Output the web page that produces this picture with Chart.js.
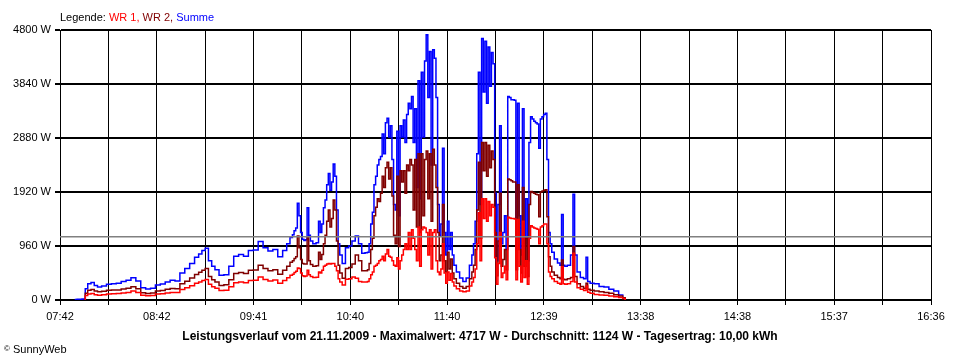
<!DOCTYPE html>
<html><head><meta charset="utf-8">
<script src="https://cdn.jsdelivr.net/npm/chart.js@4.4.1/dist/chart.umd.min.js"></script>
<style>
html,body{margin:0;padding:0;background:#fff;}
#wrap{position:relative;width:960px;height:360px;overflow:hidden;font-family:"Liberation Sans",Arial,sans-serif;color:#000;}
#c{position:absolute;left:0;top:0;}
#legend{position:absolute;left:60px;top:9px;font-size:11px;line-height:16px;white-space:nowrap;}
#title{position:absolute;left:0;width:960px;top:328px;text-align:center;font-weight:bold;font-size:12px;line-height:16px;white-space:nowrap;}
#copy{position:absolute;left:4px;top:341px;font-size:11px;line-height:16px;white-space:nowrap;}
</style></head><body>
<div id="wrap">
<canvas id="c" width="960" height="360"></canvas>
<div id="legend">Legende: <span style="color:#ff0000">WR 1,</span> <span style="color:#800000">WR 2,</span> <span style="color:#0000ff">Summe</span></div>
<div id="title">Leistungsverlauf vom 21.11.2009 - Maximalwert: 4717 W - Durchschnitt: 1124 W - Tagesertrag: 10,00 kWh</div>
<div id="copy"><span style="font-size:8px;vertical-align:2px">©</span> SunnyWeb</div>
</div>
<script>
const times = [
 "07:51","07:54","07:57","07:58","08:00","08:02","08:04","08:06","08:09","08:12",
 "08:15","08:18","08:21","08:24","08:27","08:30","08:33","08:36","08:39","08:42",
 "08:45","08:48","08:51","08:54","08:57","09:00","09:03","09:06","09:08","09:10",
 "09:12","09:14","09:16","09:18","09:21","09:24","09:27","09:30","09:33","09:36",
 "09:39","09:42","09:45","09:48","09:51","09:54","09:57","10:00","10:02","10:04",
 "10:05","10:06","10:07","10:08","10:09","10:10","10:11","10:12","10:13","10:14",
 "10:15","10:16","10:18","10:20","10:21","10:22","10:23","10:24","10:25","10:26",
 "10:27","10:28","10:29","10:30","10:31","10:32","10:33","10:34","10:36","10:38",
 "10:40","10:42","10:44","10:46","10:48","10:50","10:51","10:52","10:53","10:54",
 "10:55","10:56","10:57","10:58","10:59","11:00","11:01","11:02","11:03","11:04",
 "11:05","11:06","11:07","11:08","11:09","11:10","11:11","11:12","11:13","11:14",
 "11:15","11:16","11:17","11:18","11:19","11:20","11:21","11:22","11:23","11:24",
 "11:25","11:26","11:27","11:28","11:29","11:30","11:31","11:32","11:33","11:34",
 "11:35","11:36","11:37","11:38","11:39","11:40","11:41","11:42","11:43","11:44",
 "11:46","11:48","11:50","11:52","11:54","11:55","11:56","11:57","11:58","11:59",
 "12:00","12:01","12:02","12:03","12:04","12:05","12:06","12:07","12:08","12:09",
 "12:10","12:11","12:12","12:13","12:14","12:15","12:16","12:17","12:18","12:19",
 "12:20","12:21","12:22","12:23","12:24","12:25","12:26","12:27","12:28","12:29",
 "12:30","12:31","12:32","12:33","12:34","12:35","12:36","12:37","12:38","12:39",
 "12:40","12:41","12:42","12:43","12:44","12:46","12:48","12:49","12:50","12:51",
 "12:52","12:54","12:56","12:57","12:58","13:00","13:02","13:04","13:05","13:06",
 "13:08","13:11","13:14","13:17","13:20","13:23","13:26","13:28","13:29"
];
const summe = [
 10,15,20,200,290,310,260,230,250,280,
 290,300,330,350,395,340,220,195,210,265,
 285,320,350,340,480,560,650,760,820,880,
 920,700,600,540,440,450,600,780,810,780,
 880,890,1040,930,870,900,770,880,1000,1110,
 1160,1230,1280,1720,1500,1200,1080,1060,1070,1640,
 1150,1050,1000,1020,1400,1200,1350,1640,1780,2050,
 2250,1950,2100,2420,2200,1600,1000,800,650,930,
 960,1050,1140,1000,830,840,850,1000,1350,1560,
 2050,2200,2400,2500,2550,2950,2600,3150,3230,2900,
 3100,2500,1700,1600,3000,1500,3100,2900,3200,2800,
 3300,3500,3400,3620,2800,3400,2000,3900,1800,4050,
 2900,4250,4717,3600,4420,2400,4450,4300,3600,1700,
 1150,1350,2700,1200,800,1400,900,1200,800,620,
 500,390,330,390,620,800,1000,1400,2600,4050,
 1700,4650,3700,4600,3500,4500,3800,4400,4200,1900,
 700,1700,3100,1000,1200,1500,900,3620,3600,3560,
 3560,3550,900,3500,1500,800,3400,1000,1800,700,
 2800,3260,3220,3180,3150,3130,2700,3220,3260,3300,
 3320,2500,1200,1000,850,730,660,620,1520,620,
 600,620,800,1880,800,500,400,380,760,330,
 300,290,240,230,190,160,90,40,10
];
const wr2 = [
 null,null,0,120,175,185,160,145,155,175,
 180,180,195,210,235,200,130,115,125,160,
 170,190,205,200,290,335,390,455,495,530,
 560,420,360,320,260,270,360,470,490,470,
 530,535,620,560,520,540,460,530,600,670,
 700,740,770,1140,930,720,650,640,640,1110,
 700,630,600,610,850,720,810,1000,1150,1400,
 1600,1300,1450,1780,1600,1050,620,480,385,560,
 580,640,800,700,520,520,540,650,900,1100,
 1500,1650,1800,1750,1900,2200,2000,2350,2450,2150,
 2350,1850,1150,1000,2200,950,2300,2100,2300,1900,
 2400,2300,2500,2400,1600,2500,1300,2600,1200,2600,
 1500,2500,2650,1800,2600,1400,2680,2400,2000,1200,
 700,800,1700,700,500,850,550,730,480,380,
 300,240,210,240,380,500,620,900,1600,2450,
 1100,2800,2300,2800,2200,2750,2350,2650,2500,1200,
 430,1050,1900,600,720,900,540,2150,2140,2120,
 2100,2100,540,2050,900,480,2000,600,1100,420,
 1700,1930,1910,1900,1880,1870,1480,1920,1940,1950,
 1960,1480,770,600,500,440,400,380,710,370,
 360,380,400,950,420,290,240,210,300,190,
 175,160,148,135,119,95,71,40,0
];
const wr1 = [
 null,null,0,80,105,115,95,85,95,105,
 110,115,125,135,160,135,85,75,80,105,
 110,125,135,135,185,220,255,300,320,345,
 365,280,235,210,170,175,235,305,320,305,
 345,350,410,365,340,355,300,345,395,440,
 460,490,510,570,560,480,430,420,425,530,
 450,420,400,405,500,480,530,600,620,640,
 650,640,650,650,600,520,380,320,265,370,
 380,410,385,330,320,320,330,380,450,500,
 600,620,650,700,720,780,700,820,900,780,
 760,700,620,600,750,550,700,800,900,1000,
 900,1200,900,1250,1100,900,700,1300,600,1250,
 1300,1280,1200,800,1250,550,1200,1250,700,500,
 450,550,1000,480,300,500,350,470,320,250,
 200,160,145,160,250,320,400,550,1000,1550,
 700,1800,1450,1800,1400,1750,1500,1700,1650,750,
 280,650,1200,400,480,600,360,1470,1460,1450,
 1450,1440,360,1430,600,320,1400,400,700,280,
 1100,1320,1300,1280,1270,1260,1000,1300,1320,1350,
 1350,1000,500,420,380,330,300,280,590,290,
 280,290,330,830,320,220,190,170,250,140,
 120,100,89,85,70,60,45,25,0
];
const average = 1124;
const xStart = "07:42", xEnd = "16:36";
const xTickLabels = ["07:42","","08:42","","09:41","","10:40","","11:40","","12:39","","13:38","","14:38","","15:37","","16:36"];
const yTickValues = [0,960,1920,2880,3840,4800];

function toMin(s){ const p = s.split(":"); return (+p[0])*60 + (+p[1]); }
const xs = times.map(toMin);
const xMin = toMin(xStart), xMax = toMin(xEnd);
const pts = arr => arr.map((v,i)=>({x:xs[i], y:v}));

Chart.defaults.font.family = "'Liberation Sans', Arial, sans-serif";
Chart.defaults.font.size = 11;
Chart.defaults.color = "#000";

const lineDs = (label, data, color, w, stepped) => ({
  label, data, borderColor: color, backgroundColor: color, borderWidth: w,
  pointRadius: 0, fill: false, tension: 0, spanGaps: false, stepped
});

new Chart(document.getElementById("c"), {
  type: "line",
  data: {
    datasets: [
      lineDs("Durchschnitt", [{x:xMin, y:average},{x:xMax, y:average}], "#808080", 1.5, false),
      lineDs("WR 1", pts(wr1), "#ff0000", 1.5, "middle"),
      lineDs("WR 2", pts(wr2), "#800000", 1.5, "middle"),
      lineDs("Summe", pts(summe), "#0000ff", 1.5, "middle")
    ]
  },
  options: {
    responsive: false, animation: false, devicePixelRatio: 1,
    layout: { padding: { top: 30, right: 29, left: 0, bottom: 0 } },
    plugins: { legend: { display: false }, tooltip: { enabled: false }, title: { display: false } },
    scales: {
      x: {
        type: "linear", min: xMin, max: xMax,
        afterBuildTicks: s => { s.ticks = xTickLabels.map((l,i)=>({ value: xMin + i*(xMax-xMin)/(xTickLabels.length-1) })); },
        afterFit: s => { s.height = 60; },
        ticks: { autoSkip: false, maxRotation: 0, padding: 5, color: "#000", callback: (v,i) => xTickLabels[i] },
        grid: { color: "#000", lineWidth: 1, tickLength: 5 },
        border: { color: "#000", width: 2 }
      },
      y: {
        min: 0, max: 4800,
        afterBuildTicks: s => { s.ticks = yTickValues.map(v => ({ value: v })); },
        afterFit: s => { s.width = 60; },
        ticks: { padding: 4, color: "#000", callback: v => v + " W" },
        grid: { color: "#000", lineWidth: 2, tickLength: 5 },
        border: { color: "#000", width: 1 }
      }
    }
  }
});
</script>
</body></html>
